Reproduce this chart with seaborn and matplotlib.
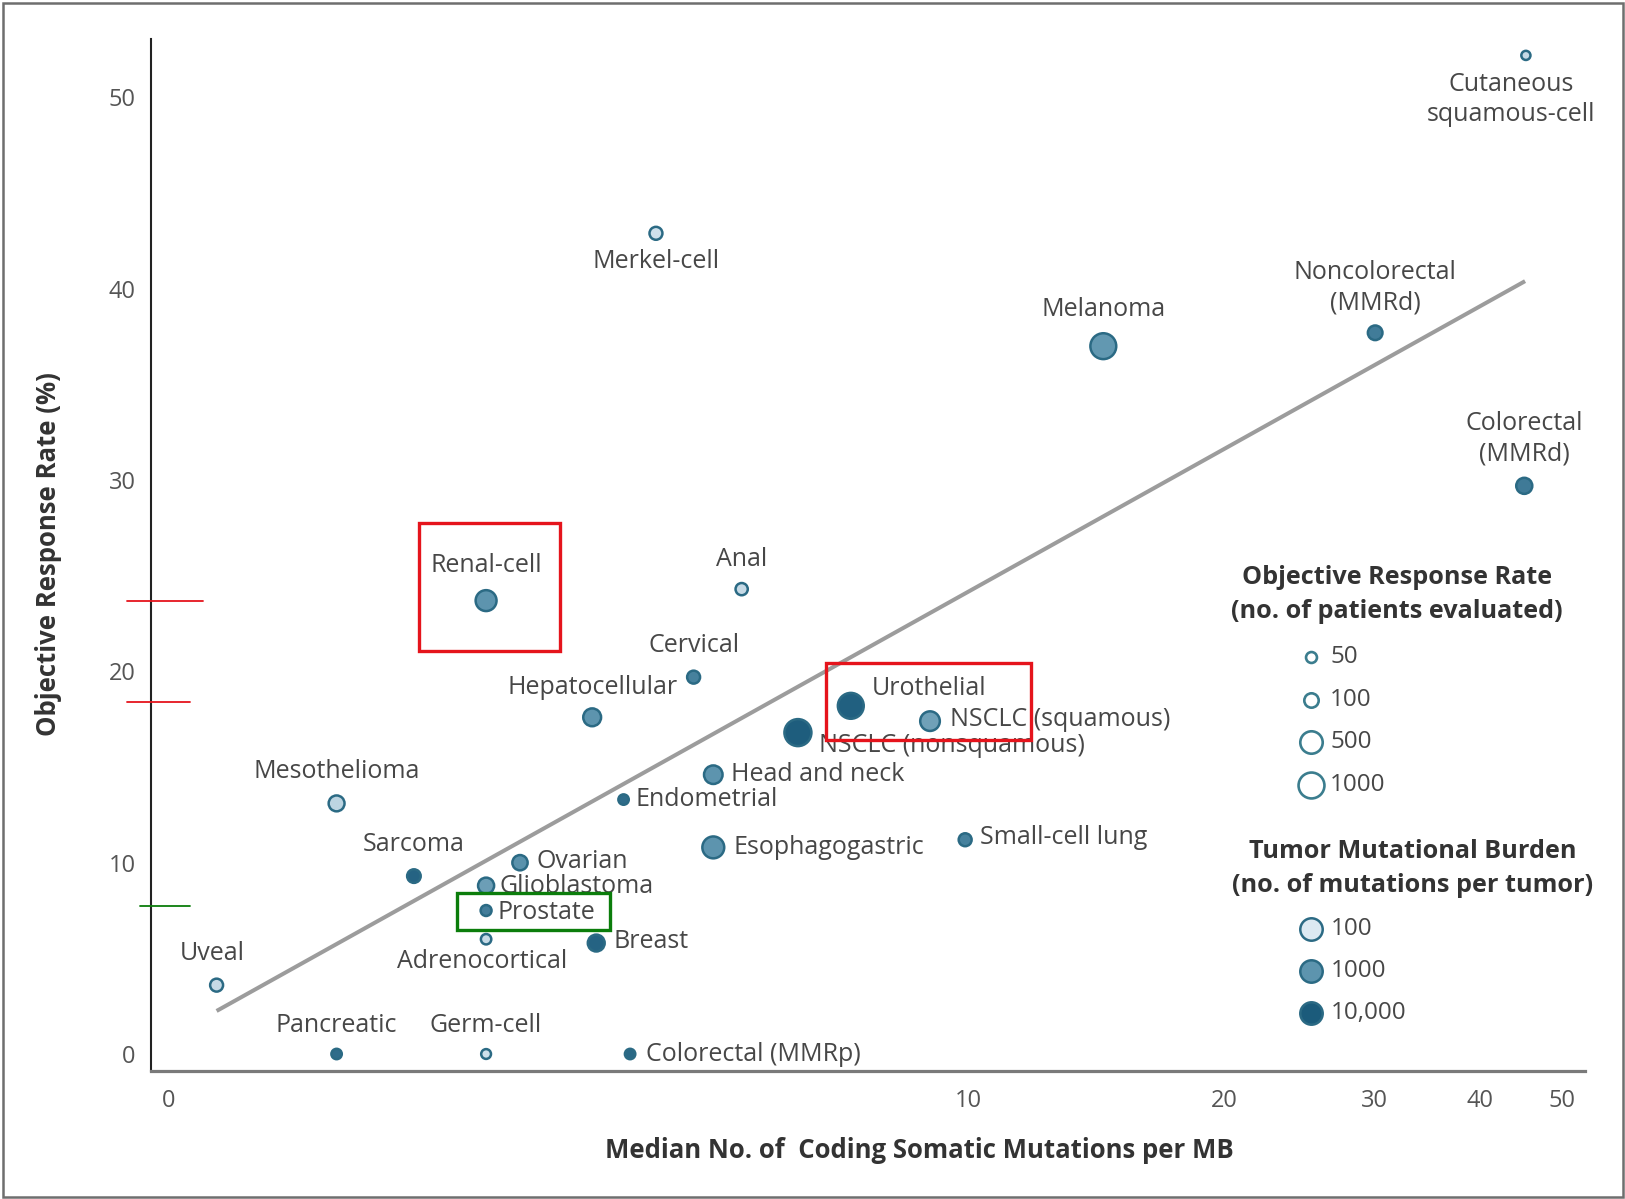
import numpy as np
import pandas as pd
import matplotlib
matplotlib.use("Agg")
import matplotlib.pyplot as plt
import seaborn as sns
from matplotlib.colors import LinearSegmentedColormap, LogNorm
from matplotlib.patches import Rectangle
from matplotlib.lines import Line2D
from matplotlib.ticker import NullLocator

# ---------------------------------------------------------------- data
tumor_types = [
    "Cutaneous\nsquamous-cell", "Merkel-cell", "Melanoma", "Noncolorectal\n(MMRd)",
    "Colorectal\n(MMRd)", "Renal-cell", "Anal", "Cervical", "Hepatocellular",
    "Urothelial", "NSCLC (squamous)", "NSCLC (nonsquamous)", "Head and neck",
    "Mesothelioma", "Endometrial", "Small-cell lung", "Esophagogastric", "Sarcoma",
    "Ovarian", "Glioblastoma", "Prostate", "Breast", "Adrenocortical", "Uveal",
    "Pancreatic", "Germ-cell", "Colorectal (MMRp)",
]
mutations_per_mb = [
    45.3, 4.28, 14.4, 30.1,
    45.1, 2.70, 5.40, 4.74, 3.60,
    7.26, 9.0, 6.29, 5.0,
    1.80, 3.92, 9.9, 5.0, 2.22,
    2.96, 2.70, 2.70, 3.64, 2.70, 1.30,
    1.80, 2.70, 3.99,
]
response_rate = [
    52.2, 42.9, 37.0, 37.7,
    29.7, 23.7, 24.3, 19.7, 17.6,
    18.2, 17.4, 16.8, 14.6,
    13.1, 13.3, 11.2, 10.8, 9.3,
    10.0, 8.8, 7.5, 5.8, 6.0, 3.6,
    0.0, 0.0, 0.0,
]
patients_evaluated = [
    35, 75, 1000, 105,
    140, 370, 65, 75, 200,
    1000, 285, 1250, 230,
    135, 45, 75, 450, 85,
    120, 140, 50, 165, 45, 75,
    45, 40, 45,
]
mutations_per_tumor = [
    150, 130, 900, 2600,
    2800, 1000, 150, 2200, 1000,
    8000, 700, 9000, 1000,
    180, 5000, 2200, 1000, 7000,
    1100, 750, 2500, 7000, 150, 150,
    5000, 130, 6000,
]

# fitted trend line (log-linear), end points
trend_x = [1.30, 45.2]
trend_y = [2.25, 40.4]

x_ticks = [1.14, 10, 20, 30, 40, 50]
x_tick_labels = ["0", "10", "20", "30", "40", "50"]
y_ticks = [0, 10, 20, 30, 40, 50]

patients_legend = [50, 100, 500, 1000]
patients_legend_labels = ["50", "100", "500", "1000"]
tmb_legend = [100, 1000, 10000]
tmb_legend_labels = ["100", "1000", "10,000"]

df = pd.DataFrame({
    "tumor": tumor_types,
    "mut_mb": mutations_per_mb,
    "orr": response_rate,
    "patients": patients_evaluated,
    "tmb": mutations_per_tumor,
})

# label placement: offset in pixels from the point, horizontal alignment
label_layout = {
    "Cutaneous\nsquamous-cell": (-15, -44, "center"),
    "Merkel-cell": (0, -28, "center"),
    "Melanoma": (0, 37, "center"),
    "Noncolorectal\n(MMRd)": (0, 45, "center"),
    "Colorectal\n(MMRd)": (0, 47, "center"),
    "Renal-cell": (0, 35, "center"),
    "Anal": (0, 30, "center"),
    "Cervical": (0, 32, "center"),
    "Hepatocellular": (0, 30, "center"),
    "Urothelial": (21, 17, "left"),
    "NSCLC (squamous)": (20, 2, "left"),
    "NSCLC (nonsquamous)": (21, -13, "left"),
    "Head and neck": (18, 0, "left"),
    "Mesothelioma": (0, 32, "center"),
    "Endometrial": (12, 0, "left"),
    "Small-cell lung": (15, 2, "left"),
    "Esophagogastric": (20, 0, "left"),
    "Sarcoma": (0, 32, "center"),
    "Ovarian": (17, 1, "left"),
    "Glioblastoma": (13, -1, "left"),
    "Prostate": (11, -2, "left"),
    "Breast": (17, 2, "left"),
    "Adrenocortical": (-4, -22, "center"),
    "Uveal": (-4, 32, "center"),
    "Pancreatic": (0, 29, "center"),
    "Germ-cell": (0, 29, "center"),
    "Colorectal (MMRp)": (16, 0, "left"),
}

# ---------------------------------------------------------------- style
W, H, DPI = 1625, 1199, 100
PT = 72 / DPI  # points per pixel

sns.set_style("white")
plt.rcParams["font.family"] = ["Open Sans", "DejaVu Sans"]

TEXT = "#474747"
TICK = "#555555"
EDGE = "#2b6a84"
LABEL_SIZE = 18
TICK_SIZE = 17
BOLD_SIZE = 18.5
tmb_cmap = LinearSegmentedColormap.from_list(
    "tmb", ["#dce9f2", "#5d94ae", "#1b5b7b"])
tmb_norm = LogNorm(100, 10000)


def marker_area(n):
    diameter_px = 13 + 11.5 * np.log10(n / 50)
    return (diameter_px * PT - 1.5) ** 2


size_map = {n: marker_area(n) for n in sorted(set(patients_evaluated))}

fig = plt.figure(figsize=(W / DPI, H / DPI), dpi=DPI)
ax = fig.add_axes([0.0929, 0.1070, 0.9754 - 0.0929, 0.9672 - 0.1070])

ax.plot(trend_x, trend_y, color="#9c9c9c", lw=2.9, zorder=1,
        solid_capstyle="butt")

sns.scatterplot(
    data=df, x="mut_mb", y="orr", hue="tmb", size="patients",
    palette=tmb_cmap, hue_norm=tmb_norm, sizes=size_map,
    edgecolor=EDGE, linewidth=1.8, legend=False, zorder=3, ax=ax,
)

for _, row in df.iterrows():
    dx, dy, ha = label_layout[row["tumor"]]
    ax.annotate(row["tumor"], (row["mut_mb"], row["orr"]),
                xytext=(dx, dy), textcoords="offset pixels",
                ha=ha, va="center", fontsize=LABEL_SIZE, color=TEXT,
                linespacing=1.25, zorder=4)

ax.set_xscale("log")
ax.set_xlim(1.088, 53.18)
ax.set_ylim(-0.873, 53.04)
ax.set_xticks(x_ticks)
ax.set_xticklabels(x_tick_labels)
ax.xaxis.set_minor_locator(NullLocator())
ax.set_yticks(y_ticks)
ax.set_xlabel("")
ax.set_ylabel("")

for side in ("top", "right"):
    ax.spines[side].set_visible(False)
ax.spines["left"].set_color("#222222")
ax.spines["left"].set_linewidth(1.5)
ax.spines["bottom"].set_color("#7a7a7a")
ax.spines["bottom"].set_linewidth(2.3)
ax.tick_params(axis="y", direction="out", length=9, width=1.5,
               color="#222222", labelcolor=TICK, labelsize=TICK_SIZE, pad=2)
ax.tick_params(axis="x", direction="out", length=7.5, width=1.5,
               color="#555555", labelcolor=TICK, labelsize=TICK_SIZE, pad=6)

fig.text(48.7 / W, 1 - 554 / H, "Objective Response Rate (%)",
         rotation=90, ha="center", va="center", fontsize=BOLD_SIZE,
         fontweight="bold", color="#333333")
fig.text(919 / W, 1 - 1150 / H,
         "Median No. of  Coding Somatic Mutations per MB",
         ha="center", va="center", fontsize=BOLD_SIZE, fontweight="bold",
         color="#333333")

# ---------------------------------------------------------------- legends + callouts
ov = fig.add_axes([0, 0, 1, 1], zorder=10)
ov.set_xlim(0, W)
ov.set_ylim(H, 0)
ov.axis("off")
ov.patch.set_alpha(0)

title_kw = dict(ha="center", va="center", fontsize=18.2, fontweight="bold",
                color="#333333")
item_kw = dict(ha="left", va="center", fontsize=17.5, color=TEXT)

ov.text(1397, 577, "Objective Response Rate", **title_kw)
ov.text(1397, 612, "(no. of patients evaluated)", **title_kw)
for i, (n, lab) in enumerate(zip(patients_legend, patients_legend_labels)):
    yy = 656.7 + i * 42.8
    ov.scatter([1311], [yy], s=marker_area(n), facecolor="white",
               edgecolor="#3b7d8e", linewidth=1.9)
    ov.text(1330, yy, lab, **item_kw)

ov.text(1413, 851, "Tumor Mutational Burden", **title_kw)
ov.text(1413, 886, "(no. of mutations per tumor)", **title_kw)
for i, (t, lab) in enumerate(zip(tmb_legend, tmb_legend_labels)):
    yy = 929 + i * 42.2
    ov.scatter([1311], [yy], s=marker_area(500), facecolor=tmb_cmap(tmb_norm(t)),
               edgecolor=EDGE, linewidth=1.8)
    ov.text(1331, yy, lab, **item_kw)

# highlight boxes and axis marks
RED, GREEN = "#e5141c", "#0b7d0b"
for (x0, y0, x1, y1), c in [((419, 523, 560, 651), RED),
                            ((826, 663, 1031, 740), RED),
                            ((457, 893, 610, 930), GREEN)]:
    ov.add_patch(Rectangle((x0, y0), x1 - x0, y1 - y0, fill=False,
                           edgecolor=c, linewidth=2.4))
for (x0, x1, yy), c in [((127, 203, 600.5), RED),
                        ((127, 190, 702), RED),
                        ((140, 190, 906), GREEN)]:
    ov.add_line(Line2D([x0, x1], [yy, yy], color=c, lw=1.3))

# outer frame
ov.add_patch(Rectangle((2.5, 2.5), W - 5, H - 5, fill=False,
                       edgecolor="#6e6e6e", linewidth=1.8))

fig.savefig("out.png", dpi=DPI)
